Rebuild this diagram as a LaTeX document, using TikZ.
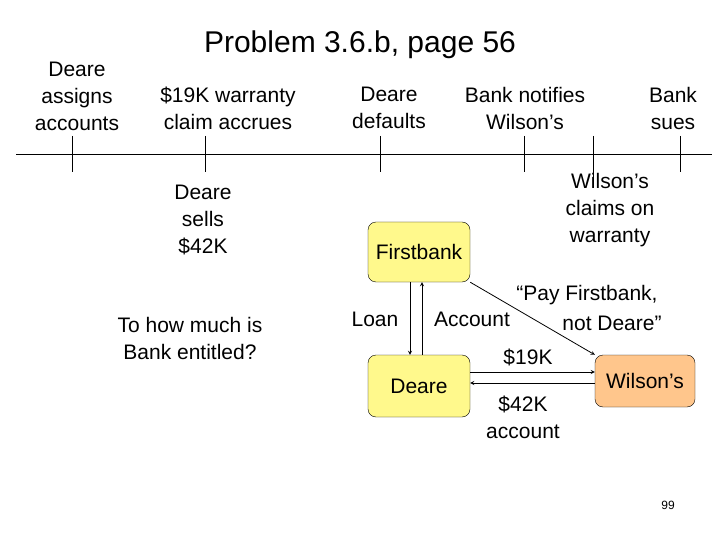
\documentclass[tikz,border=0pt]{standalone}
\usepackage{fontspec}
\setmainfont{Liberation Sans}
\begin{document}
\begin{tikzpicture}[x=1pt,y=-1pt,
  txt/.style={align=center,font=\fontsize{21}{27}\selectfont,inner sep=0pt},
  box/.style={draw,rounded corners=8pt,fill=yellow!45,font=\fontsize{21}{27}\selectfont},
  arr/.style={-stealth,line width=0.8pt}]
\useasboundingbox (0,0) rectangle (720,540);
\node[txt,font=\fontsize{30}{36}\selectfont] (title) at (360,45) {Problem 3.6.b, page 56};
\coordinate (L0) at (16,154); \coordinate (L1) at (712,154);
\draw (L0) -- (L1);
\foreach \x/\b in {72/172,205/172,380/172,524/172,593/182,680/172}
  \draw (\x,136) -- (\x,\b);
\node[txt] (t1) at (77,96) {Deare\\assigns\\accounts};
\node[txt] (t2) at (228,108) {\$19K warranty\\claim accrues};
\node[txt] (t3) at (389,108) {Deare\\defaults};
\node[txt] (t4) at (525,108) {Bank notifies\\Wilson’s};
\node[txt] (t5) at (673,108) {Bank\\sues};
\node[txt] (t6) at (203,220) {Deare\\sells\\\$42K};
\node[txt] (t7) at (610,210) {Wilson’s\\claims on\\warranty};
\node[txt] (q) at (190,338) {To how much is\\Bank entitled?};
\node[box,minimum width=102pt,minimum height=60pt] (fb) at (419,252) {Firstbank};
\node[box,minimum width=102pt,minimum height=62pt] (de) at (419,386) {Deare};
\node[box,fill=orange!45,minimum width=100pt,minimum height=52pt] (wi) at (645,381) {Wilson’s};
\draw[arr] ([xshift=-9pt]fb.south) -- ([xshift=-9pt]de.north);
\draw[arr] ([xshift=3pt]de.north) -- ([xshift=3pt]fb.south);
\draw[arr] (fb.south east) -- (wi.north west);
\draw[arr] (de.east |- 0,372) -- (wi.west |- 0,372);
\draw[arr] (wi.west |- 0,383) -- (de.east |- 0,383);
\node[txt] (loan) at (375,319) {Loan};
\node[txt] (acc) at (472,319) {Account};
\node[txt] (p1) at (587,295) {“Pay Firstbank,};
\node[txt] (p2) at (612,323) {not Deare”};
\node[txt] (k19) at (528,357) {\$19K};
\node[txt] (k42) at (523,417) {\$42K\\account};
\node[txt,font=\fontsize{12}{14}\selectfont] (pg) at (668,505) {99};
\end{tikzpicture}
\end{document}
